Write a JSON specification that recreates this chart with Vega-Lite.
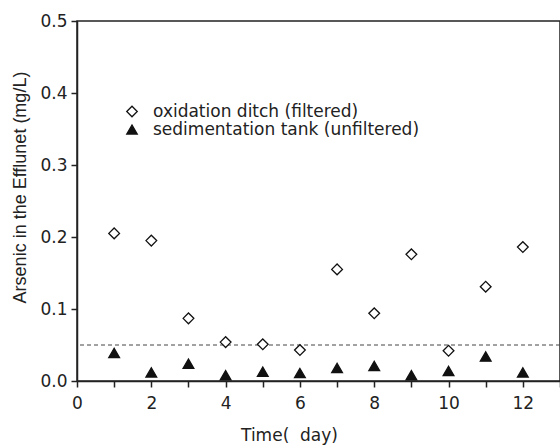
{
  "$schema": "https://vega.github.io/schema/vega-lite/v6.json",
  "autosize": {"type": "none"},
  "padding": {"left": 77, "top": 21, "right": 0, "bottom": 64},
  "width": 483,
  "height": 360,
  "background": "white",
  "config": {
    "view": {"stroke": "#222", "strokeWidth": 1.5},
    "axis": {
      "domainColor": "#222", "domainWidth": 1.5, "tickColor": "#222", "tickWidth": 1.5, "tickSize": 6,
      "labelColor": "#222", "titleColor": "#222", "grid": false,
      "labelFont": "DejaVu Sans", "labelFontSize": 17, "titleFontWeight": "normal"
    },
    "legend": {
      "title": null, "orient": "none", "legendX": 46.5, "legendY": 82, "padding": 0,
      "labelFont": "DejaVu Sans", "labelFontSize": 17, "labelColor": "#222", "labelOffset": 12.5, "labelLimit": 400,
      "rowPadding": 0, "symbolSize": 110, "symbolStrokeWidth": 1.3
    }
  },
  "datasets": {
    "pts": [
      {"day": 1, "series": "oxidation ditch (filtered)", "as": 0.205},
      {"day": 2, "series": "oxidation ditch (filtered)", "as": 0.195},
      {"day": 3, "series": "oxidation ditch (filtered)", "as": 0.087},
      {"day": 4, "series": "oxidation ditch (filtered)", "as": 0.054},
      {"day": 5, "series": "oxidation ditch (filtered)", "as": 0.051},
      {"day": 6, "series": "oxidation ditch (filtered)", "as": 0.043},
      {"day": 7, "series": "oxidation ditch (filtered)", "as": 0.155},
      {"day": 8, "series": "oxidation ditch (filtered)", "as": 0.094},
      {"day": 9, "series": "oxidation ditch (filtered)", "as": 0.176},
      {"day": 10, "series": "oxidation ditch (filtered)", "as": 0.042},
      {"day": 11, "series": "oxidation ditch (filtered)", "as": 0.131},
      {"day": 12, "series": "oxidation ditch (filtered)", "as": 0.186},
      {"day": 1, "series": "sedimentation tank (unfiltered)", "as": 0.039},
      {"day": 2, "series": "sedimentation tank (unfiltered)", "as": 0.012},
      {"day": 3, "series": "sedimentation tank (unfiltered)", "as": 0.024},
      {"day": 4, "series": "sedimentation tank (unfiltered)", "as": 0.008},
      {"day": 5, "series": "sedimentation tank (unfiltered)", "as": 0.013},
      {"day": 6, "series": "sedimentation tank (unfiltered)", "as": 0.011},
      {"day": 7, "series": "sedimentation tank (unfiltered)", "as": 0.018},
      {"day": 8, "series": "sedimentation tank (unfiltered)", "as": 0.021},
      {"day": 9, "series": "sedimentation tank (unfiltered)", "as": 0.008},
      {"day": 10, "series": "sedimentation tank (unfiltered)", "as": 0.014},
      {"day": 11, "series": "sedimentation tank (unfiltered)", "as": 0.034},
      {"day": 12, "series": "sedimentation tank (unfiltered)", "as": 0.012}
    ],
    "limit": [{"level": 0.05}]
  },
  "layer": [
    {
      "data": {"name": "limit"},
      "mark": {"type": "rule", "stroke": "#444", "strokeWidth": 1, "strokeDash": [4, 3]},
      "encoding": {
        "y": {"field": "level", "type": "quantitative", "scale": {"domain": [0, 0.5], "nice": false}}
      }
    },
    {
      "data": {"name": "pts"},
      "mark": {"type": "point", "filled": true, "strokeWidth": 1.3, "opacity": 1, "size": 115},
      "encoding": {
        "x": {
          "field": "day", "type": "quantitative",
          "scale": {"domain": [0, 13], "nice": false, "zero": false},
          "axis": {
            "values": [0,1,2,3,4,5,6,7,8,9,10,11,12,13],
            "labelExpr": "datum.value % 2 === 0 && datum.value <= 12 ? datum.label : ''",
            "labelBaseline": "alphabetic", "labelPadding": 21, "labelFlush": false,
            "title": "Time(\u00a0 day)", "titleFont": "DejaVu Sans", "titleFontSize": 17,
            "titleX": 212, "titleY": 59, "titleBaseline": "alphabetic", "titleAlign": "center"
          }
        },
        "y": {
          "field": "as", "type": "quantitative",
          "scale": {"domain": [0, 0.5], "nice": false},
          "axis": {
            "values": [0, 0.05, 0.1, 0.15, 0.2, 0.25, 0.3, 0.35, 0.4, 0.45, 0.5],
            "format": ".1f",
            "labelExpr": "abs(datum.value*10 - round(datum.value*10)) < 0.01 ? datum.label : ''",
            "labelPadding": 4, "labelFlush": false,
            "title": "Arsenic in the Efflunet (mg/L)", "titleFont": "Liberation Sans", "titleFontSize": 18,
            "titleX": -52, "titleY": 166, "titleBaseline": "alphabetic", "titleAlign": "center", "titleAngle": -90
          }
        },
        "shape": {
          "field": "series", "type": "nominal",
          "scale": {"domain": ["oxidation ditch (filtered)", "sedimentation tank (unfiltered)"], "range": ["diamond", "triangle-up"]}
        },
        "fill": {
          "field": "series", "type": "nominal",
          "scale": {"domain": ["oxidation ditch (filtered)", "sedimentation tank (unfiltered)"], "range": ["white", "#111"]}
        },
        "stroke": {
          "field": "series", "type": "nominal",
          "scale": {"domain": ["oxidation ditch (filtered)", "sedimentation tank (unfiltered)"], "range": ["#111", "#111"]}
        }
      }
    }
  ]
}
